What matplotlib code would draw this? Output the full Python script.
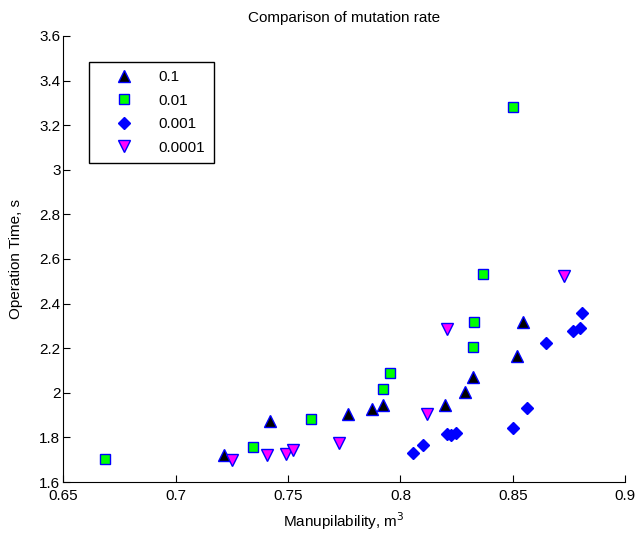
import matplotlib
matplotlib.use("Agg")
import matplotlib.pyplot as plt

plt.rcParams['font.family'] = ['Liberation Sans Narrow', 'Liberation Sans', 'DejaVu Sans']

# mutation rate 0.1
x_01 = [0.7215, 0.7419, 0.7767, 0.7873, 0.7922, 0.8198, 0.8287, 0.8323, 0.8518, 0.8545]
y_01 = [1.721, 1.874, 1.905, 1.927, 1.945, 1.945, 2.004, 2.071, 2.165, 2.317]

# mutation rate 0.01
x_001 = [0.6686, 0.7344, 0.7602, 0.7922, 0.7953, 0.8323, 0.8327, 0.8367, 0.8501]
y_001 = [1.703, 1.757, 1.883, 2.017, 2.089, 2.205, 2.317, 2.533, 3.282]

# mutation rate 0.001
x_0001 = [0.8056, 0.8101, 0.8208, 0.8226, 0.8248, 0.8501, 0.8563, 0.8648, 0.8768, 0.8799, 0.8808]
y_0001 = [1.730, 1.766, 1.815, 1.811, 1.820, 1.842, 1.932, 2.223, 2.277, 2.291, 2.358]

# mutation rate 0.0001
x_00001 = [0.7251, 0.7406, 0.7491, 0.7522, 0.7727, 0.8118, 0.8207, 0.8727]
y_00001 = [1.699, 1.721, 1.726, 1.743, 1.775, 1.905, 2.286, 2.524]

labels = ['0.1', '0.01', '0.001', '0.0001']

fig = plt.figure(figsize=(6.43, 5.37), dpi=100)
ax = fig.add_axes([0.0984, 0.1024, 0.8741, 0.8306])

edge = '#0000ff'
ax.plot(x_01, y_01, '^', ms=8.5, mfc='black', mec=edge, mew=1, label=labels[0])
ax.plot(x_001, y_001, 's', ms=7.5, mfc='#00ff00', mec=edge, mew=1, label=labels[1])
ax.plot(x_0001, y_0001, 'D', ms=6.5, mfc=edge, mec=edge, mew=1, label=labels[2])
ax.plot(x_00001, y_00001, 'v', ms=8.5, mfc='#ff00ff', mec=edge, mew=1, label=labels[3])

ax.set_xlim(0.65, 0.9)
ax.set_ylim(1.6, 3.6)
ax.set_xticks([0.65, 0.7, 0.75, 0.8, 0.85, 0.9])
ax.set_xticklabels(['0.65', '0.7', '0.75', '0.8', '0.85', '0.9'])
ax.set_yticks([1.6, 1.8, 2.0, 2.2, 2.4, 2.6, 2.8, 3.0, 3.2, 3.4, 3.6])
ax.set_yticklabels(['1.6', '1.8', '2', '2.2', '2.4', '2.6', '2.8', '3', '3.2', '3.4', '3.6'])
ax.tick_params(direction='in', length=5, labelsize=11, pad=2)
ax.tick_params(axis='x', pad=5)
ax.spines['top'].set_visible(False)
ax.spines['right'].set_visible(False)

ax.set_title('Comparison of mutation rate', fontsize=11, pad=10)
ax.set_xlabel('Manupilability, m$^3$', fontsize=11, labelpad=5)
ax.set_ylabel('Operation Time, s', fontsize=11, labelpad=12)

leg = ax.legend(loc='upper left', bbox_to_anchor=(0.046, 0.942), borderaxespad=0,
                numpoints=1, fontsize=11, fancybox=False, framealpha=1,
                edgecolor='black', labelspacing=0.62, handlelength=3.4,
                handletextpad=0.6, borderpad=0.55)
leg.get_frame().set_linewidth(1.0)

fig.savefig('out.png', dpi=100)
